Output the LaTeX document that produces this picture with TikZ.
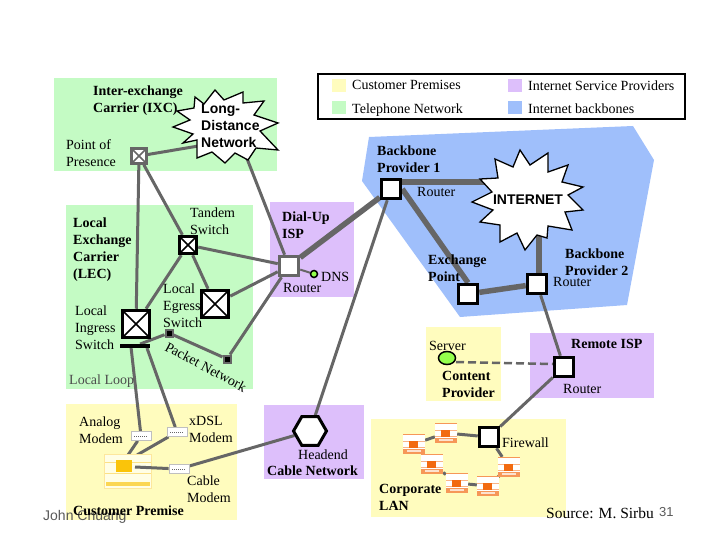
\documentclass[tikz,border=0pt]{standalone}
\usepackage{fontspec}
\setmainfont{Liberation Serif}
\setsansfont{Liberation Sans}
\usetikzlibrary{backgrounds,shapes.geometric}
\definecolor{telgreen}{HTML}{C4FBC4}
\definecolor{custyellow}{HTML}{FFFCBE}
\definecolor{isppurple}{HTML}{DDBFFB}
\definecolor{backblue}{HTML}{9FBFFB}
\definecolor{linkgray}{HTML}{666666}
\definecolor{pcorange}{HTML}{F26A10}
\definecolor{pcyellow}{HTML}{FAC40A}
\tikzset{
  lbl/.style={anchor=north west,inner sep=0pt,align=left,yshift=-1.5pt,font=\fontsize{14}{17}\selectfont},
  blbl/.style={lbl,font=\fontsize{14}{17}\selectfont\bfseries},
  sanslbl/.style={lbl,font=\fontsize{14}{17}\selectfont\sffamily\bfseries},
  link/.style={draw=linkgray,line width=3pt},
  fatlink/.style={draw=linkgray,line width=5.5pt},
  router/.style={draw=black,fill=white,line width=3.5pt,minimum size=19pt,inner sep=0pt},
  swbox/.style={draw=black,fill=white,line width=3.5pt,inner sep=0pt,
    path picture={\draw[line width=1.6pt] (path picture bounding box.north west) -- (path picture bounding box.south east)
      (path picture bounding box.north east) -- (path picture bounding box.south west);}},
  pktnode/.style={draw=linkgray,fill=black,line width=2pt,minimum size=7pt,inner sep=0pt},
  modem/.style={draw=black!25,fill=white,line width=.8pt,minimum width=20pt,minimum height=9pt,inner sep=0pt,
    path picture={\draw[black!60,line width=1pt,densely dotted] ([xshift=-7pt]path picture bounding box.center) -- ([xshift=7pt]path picture bounding box.center);}},
  lanpc/.style={draw=none,fill=white,minimum width=22pt,minimum height=20pt,inner sep=0pt,
    path picture={
      \fill[pcorange!70] (path picture bounding box.north west) rectangle ([yshift=-1pt]path picture bounding box.north east);
      \fill[pcorange!70] ([yshift=5pt]path picture bounding box.south west) rectangle (path picture bounding box.south east);
      \draw[pcorange!50,line width=.6pt] ([yshift=3pt]path picture bounding box.west) -- ([yshift=3pt]path picture bounding box.east)
        ([yshift=-3pt]path picture bounding box.west) -- ([yshift=-3pt]path picture bounding box.east);
      \fill[pcorange] ([shift={(-5pt,-4pt)}]path picture bounding box.center) rectangle ([shift={(4pt,3pt)}]path picture bounding box.center);
      \fill[white!80!pcorange] ([shift={(-7pt,2pt)}]path picture bounding box.south) rectangle ([shift={(7pt,4pt)}]path picture bounding box.south);}},
  pcbox/.style={draw=pcyellow!40,fill=custyellow!40,line width=.6pt,minimum width=47pt,minimum height=34pt,inner sep=0pt,
    path picture={
      \draw[pcyellow!50,line width=.7pt] ([yshift=9pt]path picture bounding box.west) -- ([yshift=9pt]path picture bounding box.east)
        ([yshift=-2pt]path picture bounding box.west) -- ([yshift=-2pt]path picture bounding box.east);
      \fill[pcyellow] ([shift={(-12pt,-1pt)}]path picture bounding box.center) rectangle ([shift={(4pt,11pt)}]path picture bounding box.center);
      \fill[pcyellow!70] ([shift={(-22pt,2pt)}]path picture bounding box.south) rectangle ([shift={(22pt,6pt)}]path picture bounding box.south);}},
}
\begin{document}
\begin{tikzpicture}[x=1pt,y=-1pt]
\useasboundingbox (0,0) rectangle (720,540);

% nodes
\node[router,draw=linkgray] (dialrouter) at (289,266) {};
\node[router] (bp1) at (391,189) {};
\node[router] (exch) at (468,294) {};
\node[router] (bp2) at (537,284) {};
\node[router] (remote) at (564,367) {};
\node[router] (firewall) at (489,437) {};
\node[swbox,draw=linkgray,line width=2.5pt,minimum size=15pt] (pop) at (139,156) {};
\node[swbox,minimum size=17pt] (tandem) at (188,245) {};
\node[swbox,minimum size=27pt] (egress) at (215,304) {};
\node[swbox,minimum size=27pt] (ingress) at (136,324) {};
\node[fill=black,minimum width=30pt,minimum height=3.5pt,inner sep=0pt] (bar) at (135,346) {};
\node[pktnode] (pkta) at (169,333) {};
\node[pktnode] (pktb) at (227,359) {};
\node[circle,draw=black,fill=green!60!yellow!70,line width=1.5pt,minimum size=7pt,inner sep=0pt] (dns) at (314,274) {};
\node[ellipse,draw=black,fill=green!60!yellow!70,line width=1.5pt,minimum width=17pt,minimum height=13pt,inner sep=0pt] (server) at (447,358) {};
\node[regular polygon,regular polygon sides=6,draw=black,fill=white,line width=3pt,minimum size=33pt,inner sep=0pt] (headend) at (310,431) {};
\node[modem] (analog) at (141,436) {};
\node[modem] (xdsl) at (177,432) {};
\node[modem] (cablemodem) at (179,469) {};
\node[pcbox] (pc) at (128,471) {};
\foreach \n/\x/\y in {lana/414/444,lanb/446/433,lanc/432/464,land/457/483,lane/488/486,lanf/509/467}
  \node[lanpc] (\n) at (\x,\y) {};

\coordinate (ldin) at (228,141);
\coordinate (ldout) at (228,110);
\coordinate (inetl) at (500,182);
\coordinate (inetb) at (539,235);
\coordinate (bp1r) at (400,182);
\coordinate (bp2t) at (539,275);
\coordinate (barl) at (131,347);
\coordinate (barr) at (147,348);
\coordinate (pca) at (128,455);
\coordinate (pcb) at (137,455);
\coordinate (pcc) at (135,467);
\coordinate (srvout) at (456,362);
\coordinate (remin) at (553,364);

% regions and links go under the nodes
\begin{scope}[on background layer]
\fill[telgreen] (54,78) rectangle (277,171);
\fill[telgreen] (66,205) rectangle (253,389);
\fill[isppurple] (270,202) rectangle (354,297);
\fill[backblue] (369,137) -- (633,126) -- (654,160) -- (627,305) -- (460,317) -- (362,181) -- cycle;
\fill[custyellow] (426,327) rectangle (501,401);
\fill[isppurple] (530,333) rectangle (654,398);
\fill[custyellow] (66,404) rectangle (237,520);
\fill[isppurple] (264,405) rectangle (364,479);
\fill[custyellow] (371,419) rectangle (566,517);

\foreach \a/\b in {pop/ldin,pop/ingress,pop/tandem,tandem/ingress,tandem/egress,tandem/dialrouter,egress/dialrouter,ldout/dialrouter,
    pkta/pktb,pktb/dialrouter,bar/pkta,barl/analog,barr/xdsl,pca/analog,pcb/xdsl,cablemodem/headend,headend/bp1,bp2/remote,remote/firewall,
    firewall/lanb,firewall/lanf,lana/lanb,lana/lanc,lanc/land,land/lane,lane/lanf}
  \draw[link] (\a) -- (\b);
\foreach \a/\b in {dialrouter/bp1,bp1r/inetl,bp1.east/exch.north,exch/bp2,inetb/bp2t}
  \draw[fatlink] (\a) -- (\b);
\draw[link,line width=2pt] (dialrouter) -- (dns);
\draw[link,line width=2.5pt,dash pattern=on 8pt off 4pt] (srvout) -- (remin);
\end{scope}
\draw[link] (pcc) -- (cablemodem);

% the two bursts
\draw[fill=white,line width=1.3pt,line join=miter] (177,111) -- (194,108) -- (195,97) -- (204,104) -- (215,90) -- (224,100) -- (243,92) -- (243,103)
  -- (264,101) -- (254,115) -- (278,123) -- (260,131) -- (278,150) -- (256,148) -- (248,160) -- (235,153) -- (225,163) -- (212,152) -- (197,158)
  -- (197,140) -- (183,143) -- (193,134) -- (173,127) -- (190,120) -- cycle;
\draw[fill=white,line width=1.3pt,line join=miter] (472,202) -- (492,192) -- (480,179) -- (498,178) -- (495,159) -- (513,167) -- (520,150) -- (530,165)
  -- (548,153) -- (548,172) -- (568,165) -- (562,182) -- (583,187) -- (568,195) -- (583,210) -- (565,212) -- (572,230) -- (548,226) -- (547,238)
  -- (537,235) -- (525,250) -- (517,233) -- (500,242) -- (500,225) -- (480,222) -- (493,210) -- cycle;

% legend
\node[draw=black,line width=2pt,fill=white,minimum width=367pt,minimum height=45pt,inner sep=0pt] (legend) at (501.5,96.5) {};
\foreach \n/\x/\y/\c in {swa/339/85.5/custyellow,swb/339/108/telgreen,swc/515/85.5/isppurple,swd/515/108/backblue}
  \node[fill=\c,minimum width=14pt,minimum height=13pt,inner sep=0pt] (\n) at (\x,\y) {};
\node[lbl] (lega) at (352,79) {Customer Premises};
\node[lbl] (legb) at (352,102) {Telephone Network};
\node[lbl] (legc) at (528,79) {Internet Service Providers};
\node[lbl] (legd) at (528,102) {Internet backbones};

% labels
\node[blbl] (ixc) at (93,84) {Inter-exchange\\Carrier (IXC)};
\node[sanslbl] (ldnet) at (201,102) {Long-\\Distance\\Network};
\node[lbl] (poplbl) at (66,138) {Point of\\Presence};
\node[lbl] (tandlbl) at (190,206) {Tandem\\Switch};
\node[blbl] (lec) at (73,216) {Local\\Exchange\\Carrier\\(LEC)};
\node[lbl] (inglbl) at (75,304) {Local\\Ingress\\Switch};
\node[lbl] (eglbl) at (163,282) {Local\\Egress\\Switch};
\node[lbl,text=black!70] (looplbl) at (69,373) {Local Loop};
\node[inner sep=0pt,rotate=-28,font=\fontsize{14}{17}\selectfont] (pktlbl) at (206,367) {Packet Network};
\node[blbl] (dial) at (282,210) {Dial-Up\\ISP};
\node[lbl] (dialr) at (283,282) {Router};
\node[lbl] (dnslbl) at (321,271) {DNS};
\node[blbl] (bb1) at (377,144) {Backbone\\Provider 1};
\node[lbl] (bb1r) at (417,186) {Router};
\node[sanslbl,anchor=center,yshift=1.5pt] (inet) at (528,200) {INTERNET};
\node[blbl] (exlbl) at (428,253) {Exchange\\Point};
\node[blbl] (bb2) at (565,247) {Backbone\\Provider 2};
\node[lbl] (bb2r) at (553,276) {Router};
\node[lbl] (srvlbl) at (429,340) {Server};
\node[blbl] (content) at (442,370) {Content\\Provider};
\node[blbl] (remlbl) at (571,338) {Remote ISP};
\node[lbl] (remr) at (563,383) {Router};
\node[lbl] (fwlbl) at (502,436) {Firewall};
\node[lbl] (anlbl) at (79,415) {Analog\\Modem};
\node[lbl] (xdlbl) at (189,415) {xDSL\\Modem};
\node[lbl] (calbl) at (187,474) {Cable\\Modem};
\node[lbl] (helbl) at (298,448) {Headend};
\node[blbl] (catv) at (267,464) {Cable Network};
\node[lbl,font=\fontsize{14}{17}\selectfont\sffamily,text=black!65] (john) at (43,509) {John Chuang};
\node[blbl] (cust) at (73,504) {Customer Premise};
\node[blbl] (corp) at (379,483) {Corporate\\LAN};
\node[lbl,font=\fontsize{15.5}{17}\selectfont] (src) at (546,506) {Source: M. Sirbu};
\node[lbl,font=\fontsize{13}{17}\selectfont\sffamily,text=black!65] (pageno) at (659,506) {31};
\end{tikzpicture}
\end{document}
